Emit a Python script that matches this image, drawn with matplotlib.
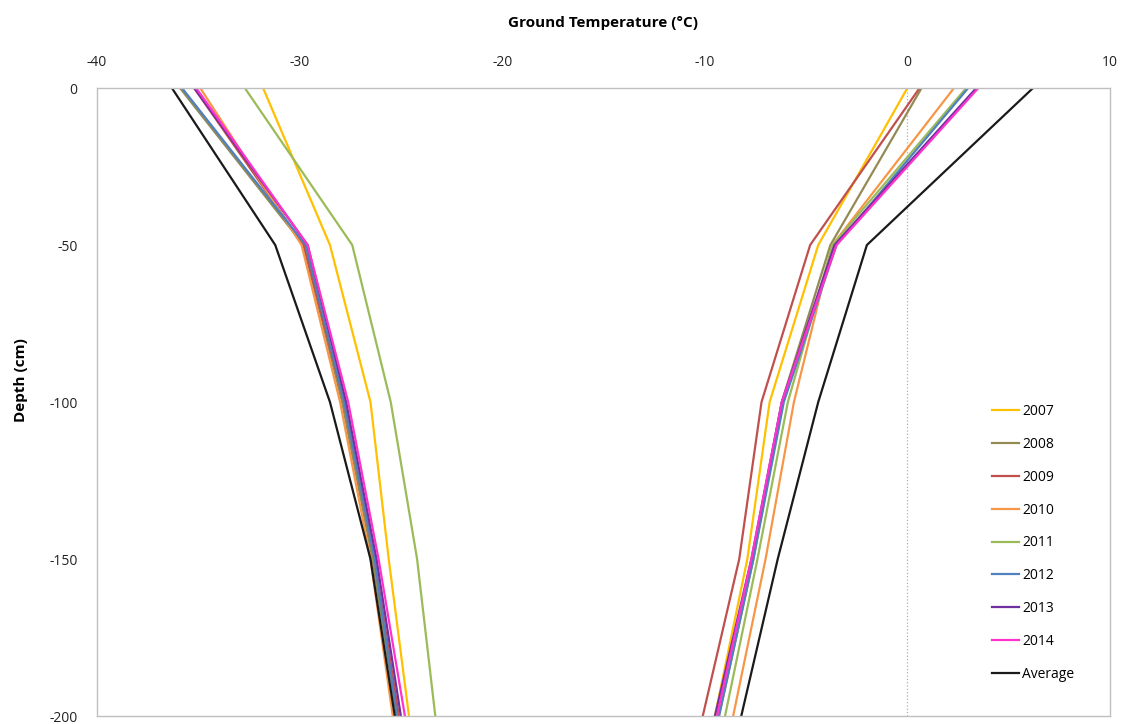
import matplotlib.pyplot as plt

plt.rcParams['font.family'] = ['Open Sans', 'DejaVu Sans']
plt.rcParams['axes.unicode_minus'] = False

# depth of each reading (cm)
depths = [0, -50, -100, -150, -200]

years = ['2007', '2008', '2009', '2010', '2011', '2012', '2013', '2014', 'Average']
colors = ['#FFC000', '#948A54', '#C0504D', '#F79646', '#9BBB59',
          '#4F81BD', '#7030A0', '#FF33CC', '#1A1A1A']

# minimum ground temperature profiles (left bundle)
t_min = {
    '2007': [-31.8, -28.5, -26.5, -25.6, -24.6],
    '2008': [-35.9, -29.8, -27.9, -26.4, -25.2],
    '2009': [-35.2, -29.8, -27.8, -26.3, -25.1],
    '2010': [-34.9, -29.9, -28.0, -26.5, -25.4],
    '2011': [-32.7, -27.4, -25.5, -24.2, -23.3],
    '2012': [-35.8, -29.7, -27.8, -26.3, -25.2],
    '2013': [-35.2, -29.6, -27.7, -26.2, -25.0],
    '2014': [-35.1, -29.6, -27.6, -26.1, -24.8],
    'Average': [-36.3, -31.2, -28.5, -26.5, -25.3],
}

# maximum ground temperature profiles (right bundle)
t_max = {
    '2007': [0.0, -4.4, -6.8, -7.9, -9.5],
    '2008': [0.7, -3.8, -6.2, -7.6, -9.3],
    '2009': [0.6, -4.8, -7.2, -8.3, -10.1],
    '2010': [2.3, -3.7, -5.6, -7.0, -8.6],
    '2011': [2.9, -3.7, -5.9, -7.4, -9.0],
    '2012': [3.0, -3.5, -6.1, -7.6, -9.3],
    '2013': [3.4, -3.6, -6.2, -7.7, -9.5],
    '2014': [3.5, -3.5, -6.2, -7.7, -9.4],
    'Average': [6.2, -2.0, -4.4, -6.4, -8.2],
}

x_ticks = [-40, -30, -20, -10, 0, 10]
y_ticks = [0, -50, -100, -150, -200]

fig = plt.figure(figsize=(11.26, 7.24), dpi=100)
ax = fig.add_axes([0.0861, 0.011, 0.8997, 0.8674])

# dotted zero line
ax.axvline(0, color='#B0B0B0', lw=0.9, ls=':', zorder=1)

for year, c in zip(years, colors):
    ax.plot(t_min[year], depths, color=c, lw=1.6, label=year, zorder=2)
    ax.plot(t_max[year], depths, color=c, lw=1.6, zorder=2)

ax.set_xlim(-40, 10)
ax.set_ylim(-200, 0)
ax.set_xticks(x_ticks)
ax.set_yticks(y_ticks)
ax.xaxis.tick_top()
ax.xaxis.set_label_position('top')
ax.tick_params(length=0, labelsize=10, colors='#222222')
ax.tick_params(axis='x', pad=13)
ax.tick_params(axis='y', pad=14)

for s in ax.spines.values():
    s.set_color('#BFBFBF')
    s.set_linewidth(1.0)

ax.set_xlabel('Ground Temperature (°C)', fontsize=11, fontweight='bold', labelpad=20)
ax.set_ylabel('Depth (cm)', fontsize=11, fontweight='bold', labelpad=10)
ax.yaxis.set_label_coords(-0.068, 0.535)

ax.legend(loc='lower right', bbox_to_anchor=(0.977, 0.035), frameon=False,
          fontsize=10, handlelength=2.0, handletextpad=0.2, labelspacing=1.28)

fig.savefig('out.png', dpi=100)
